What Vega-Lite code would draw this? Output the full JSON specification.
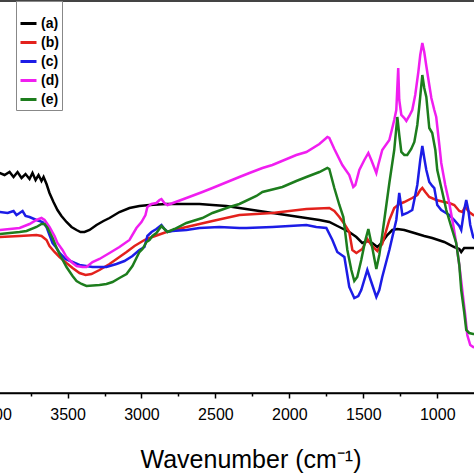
{
  "$schema": "https://vega.github.io/schema/vega-lite/v6.json",
  "width": 562,
  "height": 392,
  "autosize": {"type": "none"},
  "padding": {"left": -36, "right": -52, "top": 1, "bottom": 81},
  "background": "white",
  "config": {
    "view": {"stroke": "#444", "strokeWidth": 2},
    "font": "Liberation Sans"
  },
  "datasets": {
    "spec": [
      {"s":"(a)","w":3960,"t":220},{"s":"(a)","w":3926,"t":218},{"s":"(a)","w":3892,"t":221},{"s":"(a)","w":3865,"t":216},{"s":"(a)","w":3838,"t":221},{"s":"(a)","w":3811,"t":215},{"s":"(a)","w":3784,"t":219},{"s":"(a)","w":3757,"t":214},{"s":"(a)","w":3737,"t":220},{"s":"(a)","w":3716,"t":213},{"s":"(a)","w":3696,"t":218},{"s":"(a)","w":3676,"t":212},{"s":"(a)","w":3662,"t":216},{"s":"(a)","w":3642,"t":209},{"s":"(a)","w":3622,"t":200},{"s":"(a)","w":3595,"t":191},{"s":"(a)","w":3568,"t":183},{"s":"(a)","w":3541,"t":177},{"s":"(a)","w":3507,"t":171},{"s":"(a)","w":3473,"t":166},{"s":"(a)","w":3439,"t":163},{"s":"(a)","w":3412,"t":161},{"s":"(a)","w":3385,"t":161},{"s":"(a)","w":3351,"t":163},{"s":"(a)","w":3304,"t":168},{"s":"(a)","w":3257,"t":172},{"s":"(a)","w":3216,"t":175},{"s":"(a)","w":3149,"t":181},{"s":"(a)","w":3081,"t":185},{"s":"(a)","w":3014,"t":187},{"s":"(a)","w":2946,"t":188},{"s":"(a)","w":2831,"t":189},{"s":"(a)","w":2696,"t":189},{"s":"(a)","w":2608,"t":189},{"s":"(a)","w":2520,"t":188},{"s":"(a)","w":2426,"t":187},{"s":"(a)","w":2338,"t":185},{"s":"(a)","w":2203,"t":182},{"s":"(a)","w":2068,"t":179},{"s":"(a)","w":1932,"t":176},{"s":"(a)","w":1797,"t":173},{"s":"(a)","w":1730,"t":171},{"s":"(a)","w":1662,"t":166},{"s":"(a)","w":1595,"t":161},{"s":"(a)","w":1547,"t":156},{"s":"(a)","w":1507,"t":150},{"s":"(a)","w":1473,"t":152},{"s":"(a)","w":1439,"t":150},{"s":"(a)","w":1405,"t":146},{"s":"(a)","w":1372,"t":151},{"s":"(a)","w":1338,"t":158},{"s":"(a)","w":1304,"t":163},{"s":"(a)","w":1270,"t":164},{"s":"(a)","w":1223,"t":163},{"s":"(a)","w":1155,"t":160},{"s":"(a)","w":1088,"t":157},{"s":"(a)","w":1034,"t":155},{"s":"(a)","w":953,"t":151},{"s":"(a)","w":885,"t":146},{"s":"(a)","w":851,"t":144},{"s":"(a)","w":838,"t":141},{"s":"(a)","w":818,"t":145},{"s":"(a)","w":784,"t":145},{"s":"(a)","w":757,"t":145},{"s":"(a)","w":716,"t":145},

      {"s":"(b)","w":3960,"t":156},{"s":"(b)","w":3824,"t":157},{"s":"(b)","w":3710,"t":158},{"s":"(b)","w":3676,"t":157},{"s":"(b)","w":3642,"t":153},{"s":"(b)","w":3622,"t":147},{"s":"(b)","w":3588,"t":141},{"s":"(b)","w":3554,"t":136},{"s":"(b)","w":3507,"t":130},{"s":"(b)","w":3466,"t":125},{"s":"(b)","w":3419,"t":120},{"s":"(b)","w":3378,"t":118},{"s":"(b)","w":3338,"t":119},{"s":"(b)","w":3284,"t":123},{"s":"(b)","w":3216,"t":129},{"s":"(b)","w":3149,"t":136},{"s":"(b)","w":3101,"t":141},{"s":"(b)","w":3047,"t":147},{"s":"(b)","w":2980,"t":153},{"s":"(b)","w":2946,"t":155},{"s":"(b)","w":2831,"t":161},{"s":"(b)","w":2696,"t":166},{"s":"(b)","w":2520,"t":172},{"s":"(b)","w":2338,"t":178},{"s":"(b)","w":2115,"t":180},{"s":"(b)","w":1885,"t":184},{"s":"(b)","w":1730,"t":185},{"s":"(b)","w":1696,"t":182},{"s":"(b)","w":1662,"t":176},{"s":"(b)","w":1628,"t":169},{"s":"(b)","w":1595,"t":161},{"s":"(b)","w":1574,"t":143},{"s":"(b)","w":1547,"t":140},{"s":"(b)","w":1507,"t":144},{"s":"(b)","w":1473,"t":154},{"s":"(b)","w":1446,"t":148},{"s":"(b)","w":1426,"t":145},{"s":"(b)","w":1405,"t":142},{"s":"(b)","w":1372,"t":149},{"s":"(b)","w":1324,"t":173},{"s":"(b)","w":1291,"t":185},{"s":"(b)","w":1257,"t":189},{"s":"(b)","w":1223,"t":191},{"s":"(b)","w":1169,"t":195},{"s":"(b)","w":1135,"t":198},{"s":"(b)","w":1115,"t":203},{"s":"(b)","w":1101,"t":205},{"s":"(b)","w":1081,"t":201},{"s":"(b)","w":1054,"t":196},{"s":"(b)","w":1007,"t":193},{"s":"(b)","w":953,"t":191},{"s":"(b)","w":919,"t":190},{"s":"(b)","w":885,"t":188},{"s":"(b)","w":851,"t":182},{"s":"(b)","w":831,"t":181},{"s":"(b)","w":811,"t":186},{"s":"(b)","w":784,"t":181},{"s":"(b)","w":757,"t":178},{"s":"(b)","w":716,"t":177},

      {"s":"(c)","w":3960,"t":181},{"s":"(c)","w":3905,"t":180},{"s":"(c)","w":3865,"t":182},{"s":"(c)","w":3845,"t":178},{"s":"(c)","w":3824,"t":180},{"s":"(c)","w":3804,"t":182},{"s":"(c)","w":3784,"t":177},{"s":"(c)","w":3757,"t":176},{"s":"(c)","w":3710,"t":173},{"s":"(c)","w":3669,"t":171},{"s":"(c)","w":3642,"t":166},{"s":"(c)","w":3622,"t":158},{"s":"(c)","w":3601,"t":150},{"s":"(c)","w":3574,"t":145},{"s":"(c)","w":3554,"t":140},{"s":"(c)","w":3514,"t":134},{"s":"(c)","w":3466,"t":131},{"s":"(c)","w":3419,"t":128},{"s":"(c)","w":3331,"t":126},{"s":"(c)","w":3237,"t":126},{"s":"(c)","w":3169,"t":129},{"s":"(c)","w":3115,"t":132},{"s":"(c)","w":3061,"t":137},{"s":"(c)","w":3014,"t":143},{"s":"(c)","w":2980,"t":146},{"s":"(c)","w":2960,"t":157},{"s":"(c)","w":2932,"t":161},{"s":"(c)","w":2899,"t":164},{"s":"(c)","w":2865,"t":168},{"s":"(c)","w":2845,"t":164},{"s":"(c)","w":2824,"t":161},{"s":"(c)","w":2791,"t":162},{"s":"(c)","w":2696,"t":163},{"s":"(c)","w":2608,"t":165},{"s":"(c)","w":2473,"t":166},{"s":"(c)","w":2338,"t":165},{"s":"(c)","w":2291,"t":165},{"s":"(c)","w":2115,"t":166},{"s":"(c)","w":2000,"t":167},{"s":"(c)","w":1885,"t":168},{"s":"(c)","w":1818,"t":166},{"s":"(c)","w":1750,"t":165},{"s":"(c)","w":1709,"t":153},{"s":"(c)","w":1676,"t":141},{"s":"(c)","w":1628,"t":136},{"s":"(c)","w":1608,"t":118},{"s":"(c)","w":1595,"t":106},{"s":"(c)","w":1561,"t":95},{"s":"(c)","w":1534,"t":97},{"s":"(c)","w":1514,"t":103},{"s":"(c)","w":1473,"t":123},{"s":"(c)","w":1446,"t":111},{"s":"(c)","w":1412,"t":96},{"s":"(c)","w":1392,"t":103},{"s":"(c)","w":1372,"t":116},{"s":"(c)","w":1324,"t":143},{"s":"(c)","w":1277,"t":173},{"s":"(c)","w":1257,"t":200},{"s":"(c)","w":1236,"t":178},{"s":"(c)","w":1203,"t":180},{"s":"(c)","w":1169,"t":183},{"s":"(c)","w":1135,"t":208},{"s":"(c)","w":1115,"t":233},{"s":"(c)","w":1101,"t":247},{"s":"(c)","w":1088,"t":235},{"s":"(c)","w":1074,"t":223},{"s":"(c)","w":1054,"t":211},{"s":"(c)","w":1034,"t":207},{"s":"(c)","w":1020,"t":205},{"s":"(c)","w":1000,"t":188},{"s":"(c)","w":973,"t":183},{"s":"(c)","w":919,"t":178},{"s":"(c)","w":885,"t":173},{"s":"(c)","w":851,"t":167},{"s":"(c)","w":838,"t":163},{"s":"(c)","w":818,"t":183},{"s":"(c)","w":804,"t":193},{"s":"(c)","w":790,"t":183},{"s":"(c)","w":777,"t":168},{"s":"(c)","w":757,"t":156},{"s":"(c)","w":716,"t":150},

      {"s":"(d)","w":3960,"t":163},{"s":"(d)","w":3824,"t":165},{"s":"(d)","w":3757,"t":169},{"s":"(d)","w":3710,"t":173},{"s":"(d)","w":3676,"t":175},{"s":"(d)","w":3655,"t":173},{"s":"(d)","w":3622,"t":166},{"s":"(d)","w":3588,"t":157},{"s":"(d)","w":3568,"t":150},{"s":"(d)","w":3534,"t":143},{"s":"(d)","w":3507,"t":136},{"s":"(d)","w":3466,"t":130},{"s":"(d)","w":3439,"t":127},{"s":"(d)","w":3399,"t":126},{"s":"(d)","w":3372,"t":126},{"s":"(d)","w":3331,"t":131},{"s":"(d)","w":3284,"t":134},{"s":"(d)","w":3216,"t":140},{"s":"(d)","w":3149,"t":146},{"s":"(d)","w":3081,"t":153},{"s":"(d)","w":3034,"t":165},{"s":"(d)","w":3000,"t":171},{"s":"(d)","w":2973,"t":178},{"s":"(d)","w":2960,"t":186},{"s":"(d)","w":2932,"t":189},{"s":"(d)","w":2899,"t":190},{"s":"(d)","w":2878,"t":193},{"s":"(d)","w":2865,"t":194},{"s":"(d)","w":2845,"t":190},{"s":"(d)","w":2824,"t":188},{"s":"(d)","w":2696,"t":195},{"s":"(d)","w":2588,"t":201},{"s":"(d)","w":2520,"t":205},{"s":"(d)","w":2338,"t":216},{"s":"(d)","w":2270,"t":220},{"s":"(d)","w":2182,"t":225},{"s":"(d)","w":2115,"t":228},{"s":"(d)","w":1953,"t":238},{"s":"(d)","w":1885,"t":241},{"s":"(d)","w":1797,"t":249},{"s":"(d)","w":1743,"t":256},{"s":"(d)","w":1730,"t":255},{"s":"(d)","w":1696,"t":244},{"s":"(d)","w":1642,"t":228},{"s":"(d)","w":1595,"t":218},{"s":"(d)","w":1568,"t":206},{"s":"(d)","w":1554,"t":208},{"s":"(d)","w":1527,"t":223},{"s":"(d)","w":1493,"t":233},{"s":"(d)","w":1466,"t":240},{"s":"(d)","w":1446,"t":233},{"s":"(d)","w":1412,"t":220},{"s":"(d)","w":1399,"t":228},{"s":"(d)","w":1372,"t":243},{"s":"(d)","w":1324,"t":253},{"s":"(d)","w":1291,"t":273},{"s":"(d)","w":1277,"t":283},{"s":"(d)","w":1264,"t":325},{"s":"(d)","w":1257,"t":293},{"s":"(d)","w":1243,"t":278},{"s":"(d)","w":1223,"t":275},{"s":"(d)","w":1209,"t":272},{"s":"(d)","w":1189,"t":277},{"s":"(d)","w":1169,"t":283},{"s":"(d)","w":1149,"t":298},{"s":"(d)","w":1128,"t":321},{"s":"(d)","w":1115,"t":338},{"s":"(d)","w":1101,"t":350},{"s":"(d)","w":1088,"t":341},{"s":"(d)","w":1074,"t":327},{"s":"(d)","w":1054,"t":308},{"s":"(d)","w":1040,"t":295},{"s":"(d)","w":1020,"t":283},{"s":"(d)","w":1007,"t":276},{"s":"(d)","w":986,"t":248},{"s":"(d)","w":973,"t":230},{"s":"(d)","w":946,"t":208},{"s":"(d)","w":919,"t":190},{"s":"(d)","w":892,"t":168},{"s":"(d)","w":872,"t":150},{"s":"(d)","w":851,"t":128},{"s":"(d)","w":831,"t":103},{"s":"(d)","w":811,"t":78},{"s":"(d)","w":797,"t":58},{"s":"(d)","w":777,"t":48},{"s":"(d)","w":757,"t":46},{"s":"(d)","w":716,"t":45},

      {"s":"(e)","w":3960,"t":159},{"s":"(e)","w":3824,"t":161},{"s":"(e)","w":3777,"t":162},{"s":"(e)","w":3710,"t":166},{"s":"(e)","w":3676,"t":169},{"s":"(e)","w":3655,"t":169},{"s":"(e)","w":3635,"t":165},{"s":"(e)","w":3601,"t":155},{"s":"(e)","w":3574,"t":145},{"s":"(e)","w":3554,"t":139},{"s":"(e)","w":3507,"t":126},{"s":"(e)","w":3466,"t":117},{"s":"(e)","w":3439,"t":112},{"s":"(e)","w":3405,"t":109},{"s":"(e)","w":3372,"t":107},{"s":"(e)","w":3284,"t":108},{"s":"(e)","w":3237,"t":109},{"s":"(e)","w":3196,"t":111},{"s":"(e)","w":3149,"t":115},{"s":"(e)","w":3101,"t":119},{"s":"(e)","w":3061,"t":127},{"s":"(e)","w":3014,"t":141},{"s":"(e)","w":2993,"t":144},{"s":"(e)","w":2966,"t":151},{"s":"(e)","w":2946,"t":153},{"s":"(e)","w":2926,"t":157},{"s":"(e)","w":2899,"t":160},{"s":"(e)","w":2865,"t":167},{"s":"(e)","w":2845,"t":164},{"s":"(e)","w":2824,"t":161},{"s":"(e)","w":2777,"t":164},{"s":"(e)","w":2696,"t":170},{"s":"(e)","w":2588,"t":175},{"s":"(e)","w":2520,"t":180},{"s":"(e)","w":2405,"t":186},{"s":"(e)","w":2338,"t":189},{"s":"(e)","w":2223,"t":197},{"s":"(e)","w":2182,"t":201},{"s":"(e)","w":2047,"t":206},{"s":"(e)","w":1953,"t":212},{"s":"(e)","w":1885,"t":216},{"s":"(e)","w":1797,"t":221},{"s":"(e)","w":1743,"t":225},{"s":"(e)","w":1730,"t":224},{"s":"(e)","w":1696,"t":205},{"s":"(e)","w":1662,"t":188},{"s":"(e)","w":1635,"t":176},{"s":"(e)","w":1608,"t":143},{"s":"(e)","w":1581,"t":123},{"s":"(e)","w":1561,"t":112},{"s":"(e)","w":1541,"t":116},{"s":"(e)","w":1514,"t":133},{"s":"(e)","w":1486,"t":153},{"s":"(e)","w":1466,"t":164},{"s":"(e)","w":1439,"t":145},{"s":"(e)","w":1412,"t":124},{"s":"(e)","w":1392,"t":138},{"s":"(e)","w":1372,"t":158},{"s":"(e)","w":1324,"t":210},{"s":"(e)","w":1291,"t":243},{"s":"(e)","w":1270,"t":276},{"s":"(e)","w":1257,"t":258},{"s":"(e)","w":1243,"t":241},{"s":"(e)","w":1223,"t":238},{"s":"(e)","w":1203,"t":238},{"s":"(e)","w":1176,"t":244},{"s":"(e)","w":1155,"t":251},{"s":"(e)","w":1135,"t":268},{"s":"(e)","w":1122,"t":286},{"s":"(e)","w":1101,"t":318},{"s":"(e)","w":1088,"t":305},{"s":"(e)","w":1074,"t":296},{"s":"(e)","w":1054,"t":265},{"s":"(e)","w":1034,"t":260},{"s":"(e)","w":1013,"t":243},{"s":"(e)","w":1000,"t":223},{"s":"(e)","w":966,"t":201},{"s":"(e)","w":939,"t":183},{"s":"(e)","w":905,"t":166},{"s":"(e)","w":872,"t":150},{"s":"(e)","w":851,"t":128},{"s":"(e)","w":838,"t":103},{"s":"(e)","w":818,"t":81},{"s":"(e)","w":804,"t":63},{"s":"(e)","w":784,"t":60},{"s":"(e)","w":757,"t":59},{"s":"(e)","w":716,"t":59}
    ]
  },
  "data": {"name": "spec"},
  "mark": {"type": "line", "strokeWidth": 2.5, "clip": true},
  "encoding": {
    "x": {
      "field": "w",
      "type": "quantitative",
      "scale": {"domain": [400, 4200], "reverse": true, "nice": false, "zero": false},
      "axis": {
        "values": [4000, 3750, 3500, 3250, 3000, 2750, 2500, 2250, 2000, 1750, 1500, 1250, 1000],
        "labelExpr": "datum.value % 500 === 0 ? datum.label : ''",
        "format": "d",
        "labelFlush": false,
        "labelOverlap": false,
        "labelFont": "Liberation Sans",
        "labelFontSize": 16,
        "labelColor": "#000",
        "labelPadding": 8,
        "grid": false,
        "domainColor": "#000",
        "domainWidth": 1.5,
        "tickColor": "#000",
        "tickWidth": 1.5,
        "tickSize": {"condition": {"test": "datum.value % 500 === 0", "value": 5}, "value": 3},
        "title": "Wavenumber (cm⁻¹)",
        "titleFont": "Liberation Sans",
        "titleFontSize": 25,
        "titleFontWeight": "normal",
        "titleColor": "#000",
        "titleX": 176,
        "titleY": 74,
        "titleAlign": "left",
        "titleBaseline": "alphabetic"
      }
    },
    "y": {
      "field": "t",
      "type": "quantitative",
      "scale": {"domain": [0, 392], "nice": false, "zero": false},
      "axis": null
    },
    "color": {
      "field": "s",
      "type": "nominal",
      "scale": {
        "domain": ["(a)", "(b)", "(c)", "(d)", "(e)"],
        "range": ["#000000", "#e3211c", "#1c1ce6", "#f01ef0", "#1d7d1d"]
      },
      "legend": {
        "orient": "none",
        "legendX": 52,
        "legendY": 0,
        "title": " ",
        "titleFontSize": 6,
        "titlePadding": 4,
        "strokeColor": "#888",
        "fillColor": "white",
        "padding": 3,
        "rowPadding": 2,
        "symbolType": "stroke",
        "symbolSize": 256,
        "symbolStrokeWidth": 3,
        "labelFont": "Liberation Sans",
        "labelFontSize": 14,
        "labelFontWeight": "bold",
        "labelColor": "#000",
        "labelOffset": 3
      }
    }
  }
}
